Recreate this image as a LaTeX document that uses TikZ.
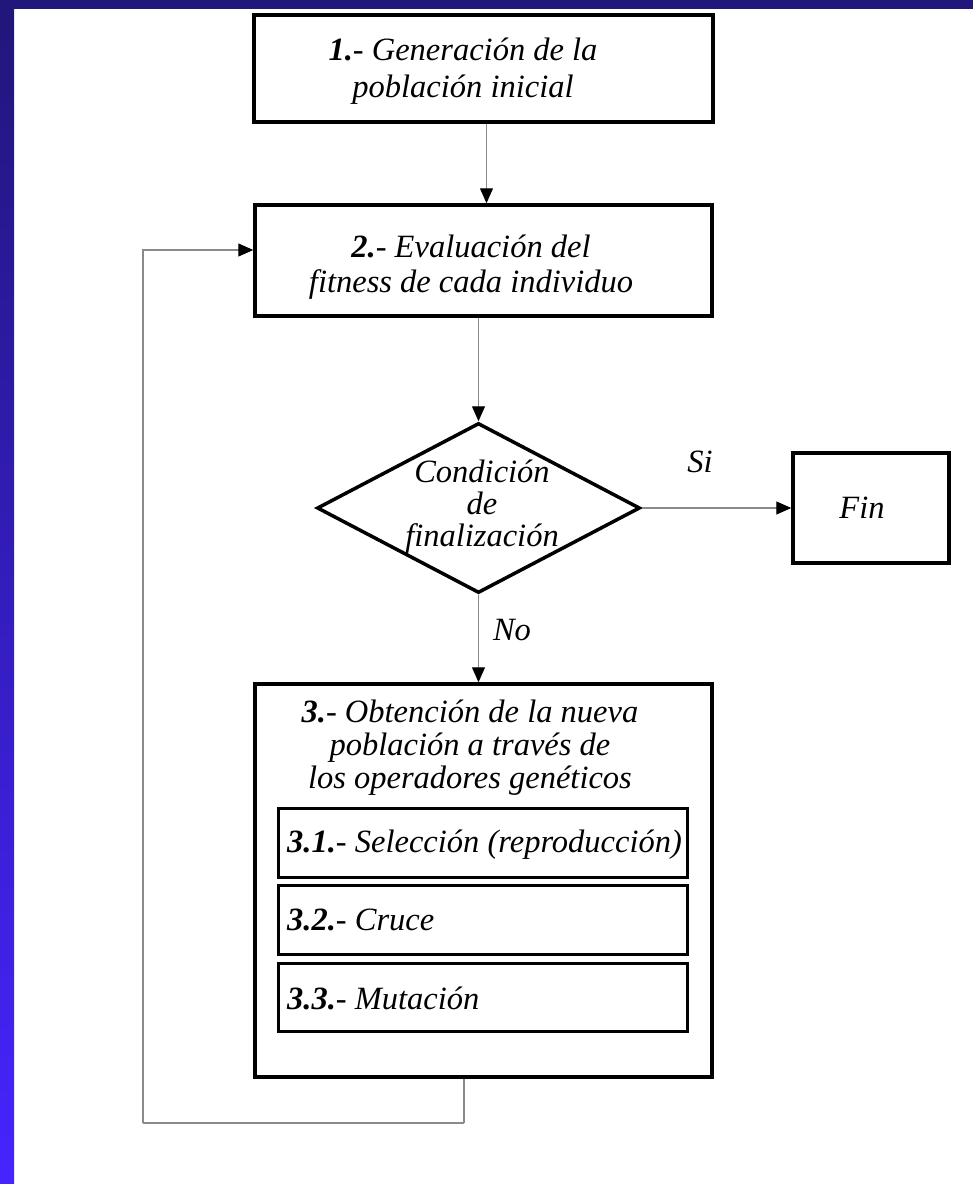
\documentclass[tikz,border=0pt]{standalone}
\usepackage{fontspec}
\setmainfont{Liberation Serif}
\usetikzlibrary{arrows.meta,shapes.geometric}
\definecolor{deepblue}{HTML}{21167A}
\definecolor{brightblue}{HTML}{4624FF}
\definecolor{linkgray}{HTML}{8A8A8A}
\begin{document}
\begin{tikzpicture}[x=1pt,y=-1pt,
  box/.style={draw=black,line width=3.5pt,inner sep=0pt,fill=white},
  subbox/.style={draw=black,line width=3pt,inner sep=0pt,minimum width=409pt},
  lbl/.style={inner sep=0pt,align=center,font=\fontsize{32.5}{35}\selectfont\itshape},
  sublbl/.style={inner sep=0pt,anchor=west,font=\fontsize{32.5}{35}\selectfont\itshape},
  link/.style={draw=linkgray,line width=1.2pt},
  arrowlink/.style={link,-{Triangle[length=15pt,width=13pt,color=black,fill=black]}}]

% canvas and blue frame
\useasboundingbox (0,0) rectangle (973,1184);
\fill[white] (0,0) rectangle (973,1184);
\shade[top color=deepblue,bottom color=brightblue] (0,1184) rectangle (14,0);
\fill[deepblue] (0,0) rectangle (973,9);

% process boxes
\node[box,minimum width=459pt,minimum height=107pt] (b1) at (483.5,68.5) {};
\node[box,minimum width=457pt,minimum height=111pt] (b2) at (483.5,260.5) {};
\node[box,diamond,minimum width=323pt,minimum height=170pt,fill=none] (cond) at (478.5,508) {};
\node[box,minimum width=156pt,minimum height=110pt] (fin) at (871,508) {};
\node[box,minimum width=457pt,minimum height=393pt] (b3) at (483.5,880.5) {};
\node[subbox,minimum height=69pt] (s1) at (482.5,842.5) {};
\node[subbox,minimum height=69pt] (s2) at (482.5,919.5) {};
\node[subbox,minimum height=68pt] (s3) at (482.5,997) {};

% texts
\node[lbl,font=\fontsize{32.5}{37}\selectfont\itshape] (t1) at (463,71) {\textbf{1.}- Generación de la\\población inicial};
\node[lbl] (t2) at (471,267) {\textbf{2.}- Evaluación del\\fitness de cada individuo};
\node[lbl,font=\fontsize{32.5}{32}\selectfont\itshape] (tc) at (482,507) {Condición\\de\\finalización};
\node[lbl] (tf) at (862,508) {Fin};
\node[lbl] (tsi) at (700,462) {Si};
\node[lbl] (tno) at (512,630) {No};
\node[lbl,font=\fontsize{32.5}{33}\selectfont\itshape] (t3) at (470,748) {\textbf{3.}- Obtención de la nueva\\población a través de\\los operadores genéticos};
\node[sublbl] (t31) at (287,845) {\textbf{3.1.}- Selección (reproducción)};
\node[sublbl] (t32) at (287,920) {\textbf{3.2.}- Cruce};
\node[sublbl] (t33) at (287,998) {\textbf{3.3.}- Mutación};

% connectors
\draw[arrowlink] ([xshift=3pt]b1.south) -- ([xshift=3pt]b1.south |- b2.north);
\draw[arrowlink] (b2.south -| cond.north) -- (cond.north);
\draw[arrowlink] (cond.east) -- (fin.west);
\draw[arrowlink] (cond.south) -- (cond.south |- b3.north);

% loop back to the evaluation step
\coordinate (loopA) at (464,1123);
\coordinate (loopB) at (143,1123);
\coordinate (loopC) at (143,250);
\draw[link] (b3.south -| loopA) -- (loopA);
\draw[link,line width=2pt] (loopA) -- (loopB);
\draw[arrowlink] (loopB) -- (loopC) -- (loopC -| b2.west);
\end{tikzpicture}
\end{document}
